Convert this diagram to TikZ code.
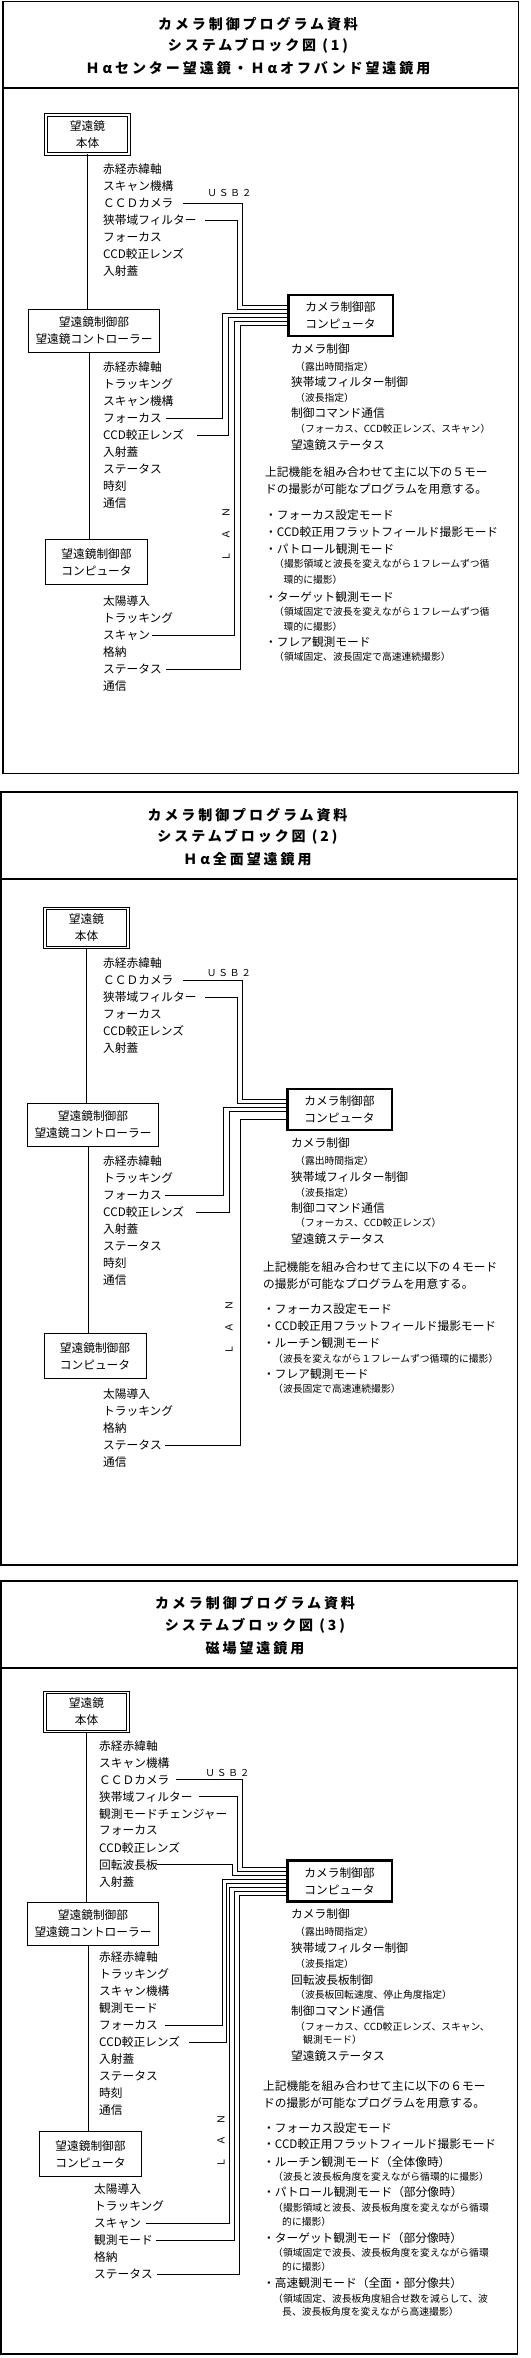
\documentclass[tikz,border=0pt]{standalone}
\usepackage{fontspec}
\newfontfamily\jpf{Noto Sans CJK JP}
\newfontfamily\jptf[LetterSpace=21]{Noto Sans CJK JP}
\newfontfamily\jpuf[LetterSpace=20]{Noto Sans CJK JP}
\newcommand\jpm{\jpf\fontsize{11.7pt}{17pt}\selectfont}
\newcommand\jps{\jpf\fontsize{9.8pt}{14pt}\selectfont}
\newcommand\jpt{\jptf\bfseries\fontsize{14pt}{22pt}\selectfont}
\newcommand\jpu{\jpuf\fontsize{9.6pt}{12pt}\selectfont}
\tikzset{
 lbl/.style={anchor=west, inner sep=0pt, font=\jpm},
 sm/.style={anchor=west, inner sep=0pt, font=\jps},
 ttl/.style={inner sep=0pt, font=\jpt},
 usb/.style={inner sep=0pt, font=\jpu},
 lan/.style={inner sep=0pt, rotate=90, font=\jps},
 telbox/.style={draw, double, double distance=1.5pt, line width=0.8pt, align=center, font=\jpm, inner sep=0pt, minimum width=83pt, minimum height=39pt},
 ctrlbox/.style={draw, line width=1pt, align=center, font=\jpm, inner sep=0pt, minimum width=131pt, minimum height=43pt},
 compbox/.style={draw, line width=1pt, align=center, font=\jpm, inner sep=0pt, minimum width=102pt, minimum height=45pt},
 cambox/.style={draw, line width=2.5pt, align=center, font=\jpm, inner sep=0pt, minimum width=104.5pt, minimum height=41pt},
 wire/.style={line width=1pt},
 frame/.style={line width=1.5pt},
}
\begin{document}
\begin{tikzpicture}[x=1pt,y=-1pt]
\fill[white] (0,0) rectangle (530,2358);
\useasboundingbox (0,0) rectangle (530,2358);

%================ PANEL 1 ================
\draw[frame] (3,1.5) rectangle (518.5,773.5);
\draw[frame] (3,88) -- (518.5,88);
\node[ttl] (p1t1) at (258,24) {カメラ制御プログラム資料};
\node[ttl] (p1t2) at (258,46) {システムブロック図 (1)};
\node[ttl] (p1t3) at (258,68) {Ｈαセンター望遠鏡・Ｈαオフバンド望遠鏡用};

\node[telbox] (p1tel) at (87.5,134.5) {望遠鏡\\本体};
\node[ctrlbox] (p1ctrl) at (94,330.5) {望遠鏡制御部\\望遠鏡コントローラー};
\node[compbox] (p1comp) at (96.5,562) {望遠鏡制御部\\コンピュータ};
\node[cambox] (p1cam) at (340.5,315.5) {カメラ制御部\\コンピュータ};

\node[lbl] (p1a1) at (103,169) {赤経赤緯軸};
\node[lbl] (p1a2) at (103,186) {スキャン機構};
\node[lbl] (p1a3) at (103,203) {ＣＣＤカメラ};
\node[lbl] (p1a4) at (103,220) {狭帯域フィルター};
\node[lbl] (p1a5) at (103,237) {フォーカス};
\node[lbl] (p1a6) at (103,254) {CCD較正レンズ};
\node[lbl] (p1a7) at (103,271) {入射蓋};

\node[lbl] (p1b1) at (103,367.5) {赤経赤緯軸};
\node[lbl] (p1b2) at (103,384.5) {トラッキング};
\node[lbl] (p1b3) at (103,401.5) {スキャン機構};
\node[lbl] (p1b4) at (103,418.5) {フォーカス};
\node[lbl] (p1b5) at (103,435.5) {CCD較正レンズ};
\node[lbl] (p1b6) at (103,452.5) {入射蓋};
\node[lbl] (p1b7) at (103,469.5) {ステータス};
\node[lbl] (p1b8) at (103,486.5) {時刻};
\node[lbl] (p1b9) at (103,503.5) {通信};

\node[lbl] (p1c1) at (103,601) {太陽導入};
\node[lbl] (p1c2) at (103,618) {トラッキング};
\node[lbl] (p1c3) at (103,635) {スキャン};
\node[lbl] (p1c4) at (103,652) {格納};
\node[lbl] (p1c5) at (103,669) {ステータス};
\node[lbl] (p1c6) at (103,686) {通信};

\node[usb] (p1usb) at (229.5,193) {ＵＳＢ２};
\node[lan] (p1lan) at (226,534.5) {Ｌ\hspace{12pt}Ａ\hspace{12pt}Ｎ};

\node[lbl] (p1r1) at (291,349) {カメラ制御};
\node[sm] (p1r2) at (295,367) {（露出時間指定）};
\node[lbl] (p1r3) at (291,382) {狭帯域フィルター制御};
\node[sm] (p1r4) at (295,398) {（波長指定）};
\node[lbl] (p1r5) at (291,413) {制御コマンド通信};
\node[sm] (p1r6) at (295,429) {（フォーカス、CCD較正レンズ、スキャン）};
\node[lbl] (p1r7) at (291,445) {望遠鏡ステータス};
\node[lbl] (p1p1) at (265,472) {上記機能を組み合わせて主に以下の５モー};
\node[lbl] (p1p2) at (265,489) {ドの撮影が可能なプログラムを用意する。};
\node[lbl] (p1m1) at (265,515) {・フォーカス設定モード};
\node[lbl] (p1m2) at (265,532) {・CCD較正用フラットフィールド撮影モード};
\node[lbl] (p1m3) at (265,549) {・パトロール観測モード};
\node[sm] (p1m4) at (274,564) {（撮影領域と波長を変えながら１フレームずつ循};
\node[sm] (p1m5) at (283.5,580) {環的に撮影）};
\node[lbl] (p1m6) at (265,597) {・ターゲット観測モード};
\node[sm] (p1m7) at (274,612) {（領域固定で波長を変えながら１フレームずつ循};
\node[sm] (p1m8) at (283.5,627) {環的に撮影）};
\node[lbl] (p1m9) at (265,642) {・フレア観測モード};
\node[sm] (p1m10) at (274,657) {（領域固定、波長固定で高速連続撮影）};

\draw[wire] (p1tel.south) -- (p1tel.south |- p1ctrl.north);
\draw[wire] (89,0 |- p1ctrl.south) -- (89,0 |- p1comp.north);
\draw[wire] (183,0 |- p1a3) -| (242,305) -- (p1cam.west |- 0,305);
\draw[wire] (205,0 |- p1a4) -| (237,309) -- (p1cam.west |- 0,309);
\draw[wire] (166,0 |- p1b4) -| (222,313) -- (p1cam.west |- 0,313);
\draw[wire] (197,0 |- p1b5) -| (228,317) -- (p1cam.west |- 0,317);
\draw[wire] (152,0 |- p1c3) -| (234,321) -- (p1cam.west |- 0,321);
\draw[wire] (166,0 |- p1c5) -| (240,325) -- (p1cam.west |- 0,325);

%================ PANEL 2 ================
\draw[frame] (1,792) rectangle (517.5,1565);
\draw[frame] (1,879) -- (517.5,879);
\node[ttl] (p2t1) at (247.5,815) {カメラ制御プログラム資料};
\node[ttl] (p2t2) at (247.5,837) {システムブロック図 (2)};
\node[ttl] (p2t3) at (247.5,859) {Ｈα全面望遠鏡用};

\node[telbox] (p2tel) at (86.5,928) {望遠鏡\\本体};
\node[ctrlbox] (p2ctrl) at (93,1125) {望遠鏡制御部\\望遠鏡コントローラー};
\node[compbox] (p2comp) at (95,1356) {望遠鏡制御部\\コンピュータ};
\node[cambox] (p2cam) at (339.5,1109.5) {カメラ制御部\\コンピュータ};

\node[lbl] (p2a1) at (103,963) {赤経赤緯軸};
\node[lbl] (p2a2) at (103,980) {ＣＣＤカメラ};
\node[lbl] (p2a3) at (103,997) {狭帯域フィルター};
\node[lbl] (p2a4) at (103,1014) {フォーカス};
\node[lbl] (p2a5) at (103,1031) {CCD較正レンズ};
\node[lbl] (p2a6) at (103,1048) {入射蓋};

\node[lbl] (p2b1) at (103,1161.5) {赤経赤緯軸};
\node[lbl] (p2b2) at (103,1178.5) {トラッキング};
\node[lbl] (p2b3) at (103,1195.5) {フォーカス};
\node[lbl] (p2b4) at (103,1212.5) {CCD較正レンズ};
\node[lbl] (p2b5) at (103,1229.5) {入射蓋};
\node[lbl] (p2b6) at (103,1246.5) {ステータス};
\node[lbl] (p2b7) at (103,1263.5) {時刻};
\node[lbl] (p2b8) at (103,1280.5) {通信};

\node[lbl] (p2c1) at (103,1394.5) {太陽導入};
\node[lbl] (p2c2) at (103,1411.5) {トラッキング};
\node[lbl] (p2c3) at (103,1428.5) {格納};
\node[lbl] (p2c4) at (103,1445.5) {ステータス};
\node[lbl] (p2c5) at (103,1462.5) {通信};

\node[usb] (p2usb) at (229,973) {ＵＳＢ２};
\node[lan] (p2lan) at (229,1327.5) {Ｌ\hspace{12pt}Ａ\hspace{12pt}Ｎ};

\node[lbl] (p2r1) at (291,1143) {カメラ制御};
\node[sm] (p2r2) at (295,1161) {（露出時間指定）};
\node[lbl] (p2r3) at (291,1177) {狭帯域フィルター制御};
\node[sm] (p2r4) at (295,1193) {（波長指定）};
\node[lbl] (p2r5) at (291,1208) {制御コマンド通信};
\node[sm] (p2r6) at (295,1223) {（フォーカス、CCD較正レンズ）};
\node[lbl] (p2r7) at (291,1239) {望遠鏡ステータス};
\node[lbl] (p2p1) at (263,1267) {上記機能を組み合わせて主に以下の４モード};
\node[lbl] (p2p2) at (263,1284) {の撮影が可能なプログラムを用意する。};
\node[lbl] (p2m1) at (263,1309) {・フォーカス設定モード};
\node[lbl] (p2m2) at (263,1326) {・CCD較正用フラットフィールド撮影モード};
\node[lbl] (p2m3) at (263,1343) {・ルーチン観測モード};
\node[sm] (p2m4) at (273,1359) {（波長を変えながら１フレームずつ循環的に撮影）};
\node[lbl] (p2m5) at (263,1374) {・フレア観測モード};
\node[sm] (p2m6) at (273,1389) {（波長固定で高速連続撮影）};

\draw[wire] (p2tel.south) -- (p2tel.south |- p2ctrl.north);
\draw[wire] (88,0 |- p2ctrl.south) -- (88,0 |- p2comp.north);
\draw[wire] (183,0 |- p2a2) -| (242,1099) -- (p2cam.west |- 0,1099);
\draw[wire] (205,0 |- p2a3) -| (237,1103) -- (p2cam.west |- 0,1103);
\draw[wire] (165,0 |- p2b3) -| (223,1107) -- (p2cam.west |- 0,1107);
\draw[wire] (196,0 |- p2b4) -| (229,1111) -- (p2cam.west |- 0,1111);
\draw[wire] (165,0 |- p2c4) -| (240,1119) -- (p2cam.west |- 0,1119);

%================ PANEL 3 ================
\draw[frame] (1,1581) rectangle (517.5,2354);
\draw[frame] (1,1668) -- (517.5,1668);
\node[ttl] (p3t1) at (255,1603) {カメラ制御プログラム資料};
\node[ttl] (p3t2) at (255,1626) {システムブロック図 (3)};
\node[ttl] (p3t3) at (255,1648) {磁場望遠鏡用};

\node[telbox] (p3tel) at (86.5,1712) {望遠鏡\\本体};
\node[ctrlbox] (p3ctrl) at (93,1924) {望遠鏡制御部\\望遠鏡コントローラー};
\node[compbox] (p3comp) at (90.5,2154) {望遠鏡制御部\\コンピュータ};
\node[cambox] (p3cam) at (339.5,1881) {カメラ制御部\\コンピュータ};

\node[lbl] (p3a1) at (99,1745.7) {赤経赤緯軸};
\node[lbl] (p3a2) at (99,1762.7) {スキャン機構};
\node[lbl] (p3a3) at (99,1779.7) {ＣＣＤカメラ};
\node[lbl] (p3a4) at (99,1796.7) {狭帯域フィルター};
\node[lbl] (p3a5) at (99,1813.7) {観測モードチェンジャー};
\node[lbl] (p3a6) at (99,1830.7) {フォーカス};
\node[lbl] (p3a7) at (99,1847.7) {CCD較正レンズ};
\node[lbl] (p3a8) at (99,1864.7) {回転波長板};
\node[lbl] (p3a9) at (99,1881.7) {入射蓋};

\node[lbl] (p3b1) at (99,1957) {赤経赤緯軸};
\node[lbl] (p3b2) at (99,1974) {トラッキング};
\node[lbl] (p3b3) at (99,1991) {スキャン機構};
\node[lbl] (p3b4) at (99,2008) {観測モード};
\node[lbl] (p3b5) at (99,2025) {フォーカス};
\node[lbl] (p3b6) at (99,2042) {CCD較正レンズ};
\node[lbl] (p3b7) at (99,2059) {入射蓋};
\node[lbl] (p3b8) at (99,2076) {ステータス};
\node[lbl] (p3b9) at (99,2093) {時刻};
\node[lbl] (p3b10) at (99,2110) {通信};

\node[lbl] (p3c1) at (94,2189) {太陽導入};
\node[lbl] (p3c2) at (94,2206) {トラッキング};
\node[lbl] (p3c3) at (94,2223) {スキャン};
\node[lbl] (p3c4) at (94,2240) {観測モード};
\node[lbl] (p3c5) at (94,2257) {格納};
\node[lbl] (p3c6) at (94,2274) {ステータス};

\node[usb] (p3usb) at (227.5,1773) {ＵＳＢ２};
\node[lan] (p3lan) at (221,2141) {Ｌ\hspace{12pt}Ａ\hspace{12pt}Ｎ};

\node[lbl] (p3r1) at (291,1914) {カメラ制御};
\node[sm] (p3r2) at (295,1932) {（露出時間指定）};
\node[lbl] (p3r3) at (291,1948) {狭帯域フィルター制御};
\node[sm] (p3r4) at (295,1964) {（波長指定）};
\node[lbl] (p3r5) at (291,1980) {回転波長板制御};
\node[sm] (p3r6) at (295,1995) {（波長板回転速度、停止角度指定）};
\node[lbl] (p3r7) at (291,2011) {制御コマンド通信};
\node[sm] (p3r8) at (295,2027) {（フォーカス、CCD較正レンズ、スキャン、};
\node[sm] (p3r9) at (303,2040) {観測モード）};
\node[lbl] (p3r10) at (291,2056) {望遠鏡ステータス};
\node[lbl] (p3p1) at (263,2086) {上記機能を組み合わせて主に以下の６モー};
\node[lbl] (p3p2) at (263,2103) {ドの撮影が可能なプログラムを用意する。};
\node[lbl] (p3m1) at (263,2128) {・フォーカス設定モード};
\node[lbl] (p3m2) at (263,2144) {・CCD較正用フラットフィールド撮影モード};
\node[lbl] (p3m3) at (263,2162) {・ルーチン観測モード（全体像時）};
\node[sm] (p3m4) at (273,2177) {（波長と波長板角度を変えながら循環的に撮影）};
\node[lbl] (p3m5) at (263,2192) {・パトロール観測モード（部分像時）};
\node[sm] (p3m6) at (273,2208) {（撮影領域と波長、波長板角度を変えながら循環};
\node[sm] (p3m7) at (282,2222) {的に撮影）};
\node[lbl] (p3m8) at (263,2238) {・ターゲット観測モード（部分像時）};
\node[sm] (p3m9) at (273,2253) {（領域固定で波長、波長板角度を変えながら循環};
\node[sm] (p3m10) at (282,2267) {的に撮影）};
\node[lbl] (p3m11) at (263,2283) {・高速観測モード（全面・部分像共）};
\node[sm] (p3m12) at (273,2299) {（領域固定、波長板角度組合せ数を減らして、波};
\node[sm] (p3m13) at (282,2312) {長、波長板角度を変えながら高速撮影）};

\draw[wire] (p3tel.south) -- (p3tel.south |- p3ctrl.north);
\draw[wire] (88,0 |- p3ctrl.south) -- (88,0 |- p3comp.north);
\draw[wire] (176,0 |- p3a3) -| (242,1867) -- (p3cam.west |- 0,1867);
\draw[wire] (199,0 |- p3a4) -| (237,1871) -- (p3cam.west |- 0,1871);
\draw[wire] (157,0 |- p3a8) -| (232,1875) -- (p3cam.west |- 0,1875);
\draw[wire] (165,0 |- p3b5) -| (222,1879) -- (p3cam.west |- 0,1879);
\draw[wire] (189,0 |- p3b6) -| (226,1883) -- (p3cam.west |- 0,1883);
\draw[wire] (146,0 |- p3c3) -| (229.5,1887) -- (p3cam.west |- 0,1887);
\draw[wire] (156,0 |- p3c4) -| (234,1891) -- (p3cam.west |- 0,1891);
\draw[wire] (157,0 |- p3c6) -| (239.5,1895) -- (p3cam.west |- 0,1895);
\end{tikzpicture}
\end{document}
